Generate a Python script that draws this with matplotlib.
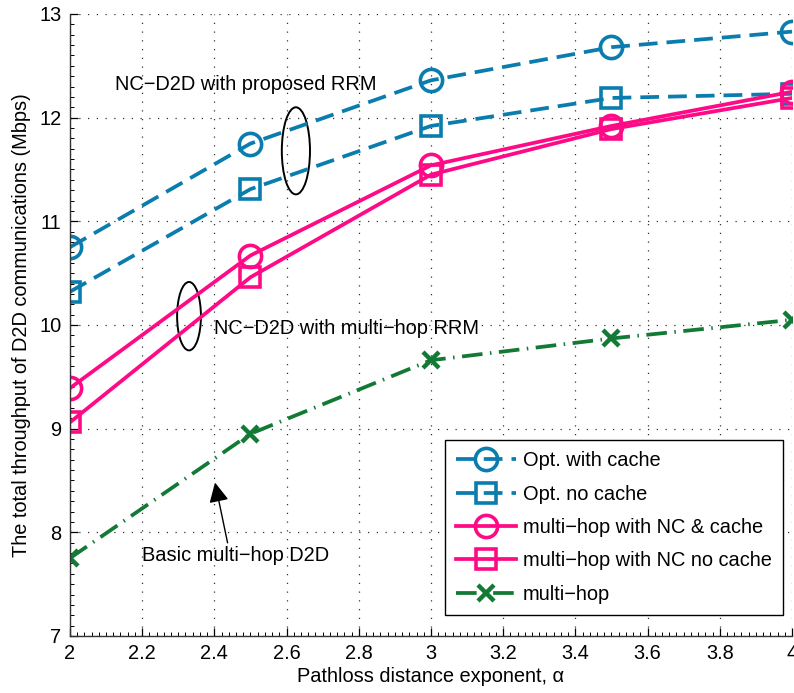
import matplotlib
matplotlib.use("Agg")
import matplotlib.pyplot as plt
from matplotlib.patches import Ellipse
from matplotlib.ticker import MultipleLocator

plt.rcParams['font.family'] = ['Liberation Sans', 'DejaVu Sans']
plt.rcParams['font.size'] = 14.4

# pathloss exponent
alpha = [2.0, 2.5, 3.0, 3.5, 4.0]

# total throughput (Mbps)
opt_cache = [10.75, 11.75, 12.36, 12.68, 12.83]
opt_nocache = [10.32, 11.31, 11.92, 12.19, 12.23]
nc_cache = [9.39, 10.67, 11.54, 11.92, 12.25]
nc_nocache = [9.06, 10.46, 11.45, 11.89, 12.19]
multihop = [7.75, 8.95, 9.66, 9.87, 10.05]

labels = ["Opt. with cache", "Opt. no cache", "multi\u2212hop with NC & cache",
          "multi\u2212hop with NC no cache", "multi\u2212hop"]

blue = "#0a7dae"
pink = "#ff0a86"
green = "#137a35"

fig = plt.figure(figsize=(7.94, 6.93), dpi=100)
ax = fig.add_axes([0.088, 0.0823, 0.9095, 0.8975])

lw = 2.7
ms = 16
ax.plot(alpha, opt_cache, color=blue, lw=lw, dashes=(5.0, 2.4), marker='o',
        ms=ms, mfc='none', mew=2.6, label=labels[0])
ax.plot(alpha, opt_nocache, color=blue, lw=lw, dashes=(5.0, 2.4), marker='s',
        ms=ms - 2, mfc='none', mew=2.6, label=labels[1])
ax.plot(alpha, nc_cache, color=pink, lw=lw, marker='o',
        ms=ms, mfc='none', mew=2.6, label=labels[2])
ax.plot(alpha, nc_nocache, color=pink, lw=lw, marker='s',
        ms=ms - 2, mfc='none', mew=2.6, label=labels[3])
ax.plot(alpha, multihop, color=green, lw=lw, dashes=(5.5, 2.0, 0.4, 2.0), marker='x',
        ms=12, mew=3.2, label=labels[4])

ax.set_xlim(2, 4)
ax.set_ylim(7, 13)
ax.xaxis.set_minor_locator(MultipleLocator(0.02))
ax.yaxis.set_major_locator(MultipleLocator(1))
ax.yaxis.set_minor_locator(MultipleLocator(0.1))
ax.set_xticks([2, 2.2, 2.4, 2.6, 2.8, 3, 3.2, 3.4, 3.6, 3.8, 4])
ax.set_xticklabels(["2", "2.2", "2.4", "2.6", "2.8", "3", "3.2", "3.4", "3.6", "3.8", "4"])
ax.tick_params(which='major', direction='in', length=6, width=0.9, pad=6)
ax.tick_params(which='minor', direction='in', length=3, width=0.7)
ax.grid(True, which='major', color='#333333', linestyle=(0, (1, 6)), lw=0.9)
for s in ['top', 'right']:
    ax.spines[s].set_visible(False)
for s in ['left', 'bottom']:
    ax.spines[s].set_linewidth(1.0)
    ax.spines[s].set_color('#333333')

ax.set_xlabel("Pathloss distance exponent, \u03b1", labelpad=3)
ax.set_ylabel("The total throughput of D2D communications (Mbps)", labelpad=6)

# annotations
ax.text(2.125, 12.32, "NC\u2212D2D with proposed RRM", va='center', ha='left')
ax.add_patch(Ellipse((2.626, 11.68), 0.078, 0.84, fill=False, ec='black', lw=1.4))
ax.text(2.40, 9.97, "NC\u2212D2D with multi\u2212hop RRM", va='center', ha='left')
ax.add_patch(Ellipse((2.33, 10.085), 0.066, 0.66, fill=False, ec='black', lw=1.4))
ax.annotate("Basic multi\u2212hop D2D", xy=(2.402, 8.48), xytext=(2.2, 7.78),
            va='center', ha='left',
            arrowprops=dict(arrowstyle='-|>', color='black', lw=1.0,
                            mutation_scale=30, shrinkA=0, shrinkB=0,
                            relpos=(0.46, 1.0)))

leg = ax.legend(loc='lower right', bbox_to_anchor=(0.9875, 0.034), fancybox=False,
                edgecolor='black', framealpha=1, handlelength=3, handletextpad=0.35,
                labelspacing=0.72, borderpad=0.55, borderaxespad=0)
leg.get_frame().set_linewidth(1.0)

fig.savefig("out.png", dpi=100)
